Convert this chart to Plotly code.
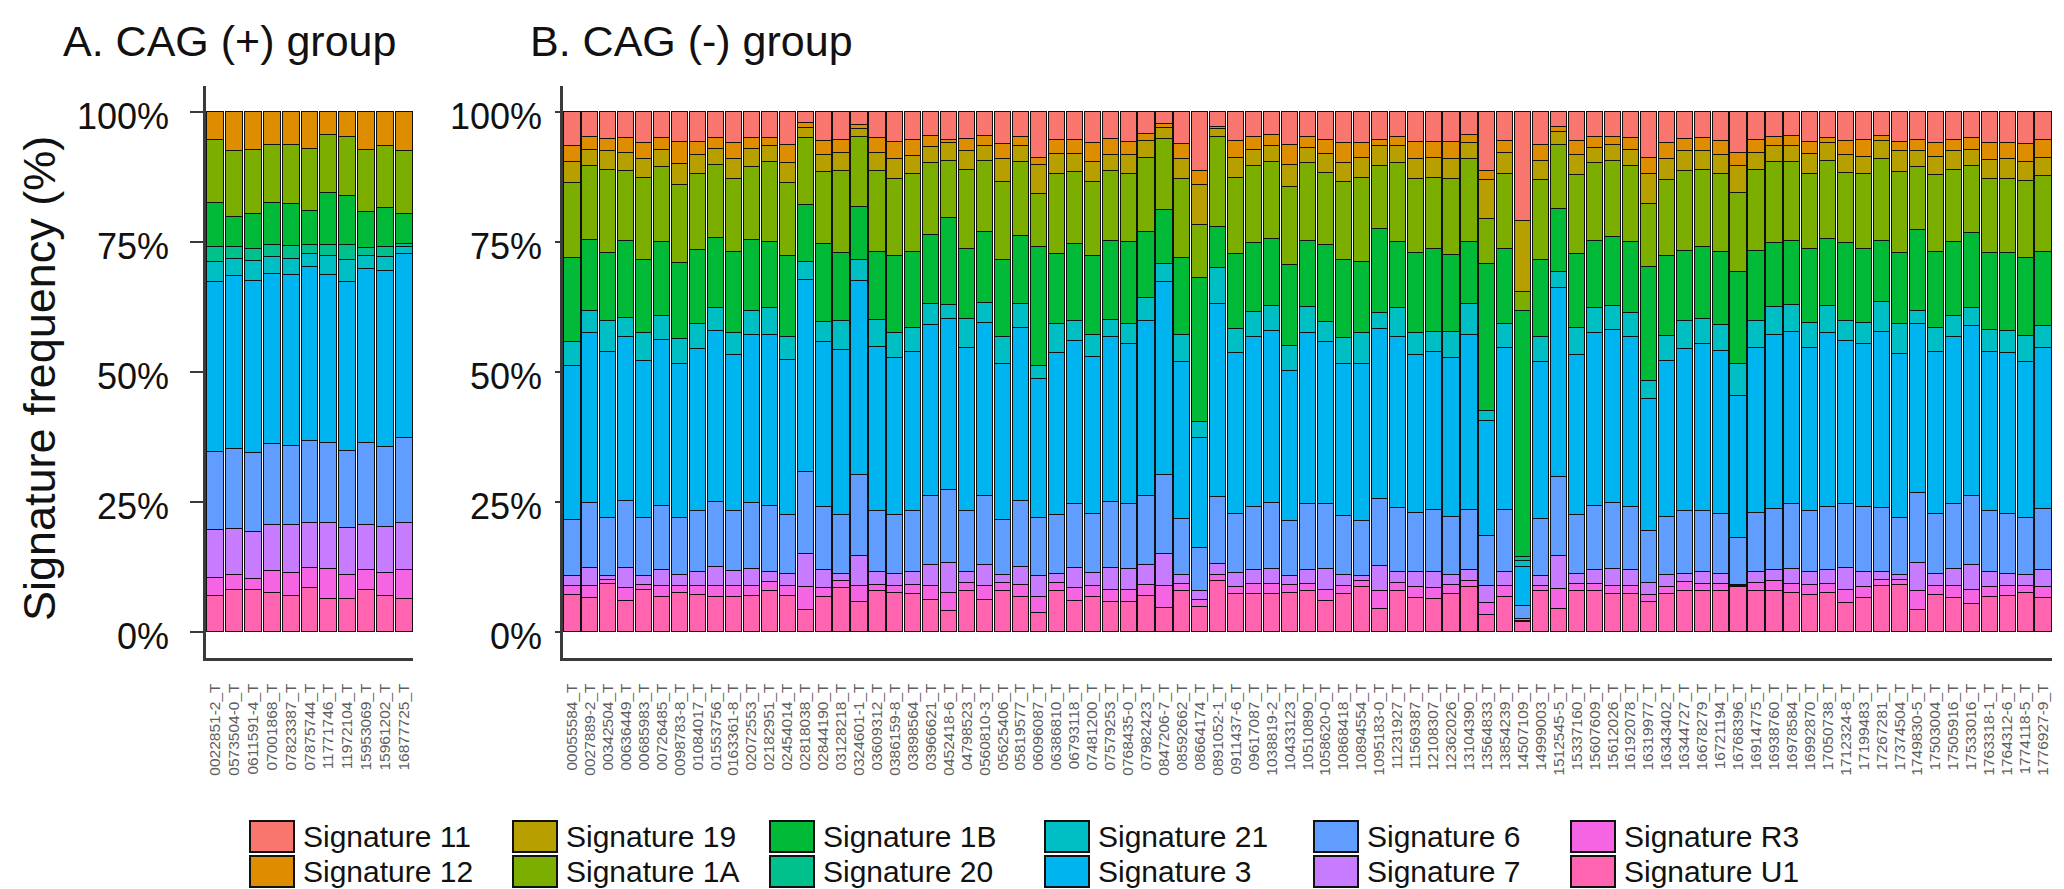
import plotly.graph_objects as go

W, H = 2064, 889

signatures = ["Signature 11", "Signature 12", "Signature 19", "Signature 1A", "Signature 1B", "Signature 20",
              "Signature 21", "Signature 3", "Signature 6", "Signature 7", "Signature R3", "Signature U1"]
colors = ["#F8766D", "#DE8C00", "#B79F00", "#7CAE00", "#00BA38", "#00C08B",
          "#00BFC4", "#00B4F0", "#619CFF", "#C77CFF", "#F564E3", "#FF64B0"]

# ---------------- Panel A: CAG (+) group ----------------
samples_a = ["0022851-2_T", "0573504-0_T", "0611591-4_T", "07001868_T", "07823387_T", "07875744_T",
             "11771746_T", "11972104_T", "15953069_T", "15961202_T", "16877725_T"]
a_11 = [0, 0, 0, 0, 0, 0, 0, 0, 0, 0, 0]
a_12 = [5.4, 7.5, 7.3, 6.3, 6.3, 7.1, 4.3, 4.8, 7.3, 6.4, 7.5]
a_19 = [0, 0, 0, 0, 0, 0, 0, 0, 0, 0, 0]
a_1A = [12.1, 12.7, 12.3, 11.2, 11.4, 11.9, 11.3, 11.2, 11.9, 12.0, 12.1]
a_1B = [8.4, 5.7, 6.7, 8.0, 8.0, 6.6, 9.9, 9.6, 6.9, 7.5, 5.8]
a_20 = [2.9, 2.3, 2.3, 2.4, 2.5, 1.7, 2.2, 2.8, 1.6, 2.0, 0.5]
a_21 = [3.9, 3.3, 3.9, 3.2, 3.0, 2.5, 3.6, 4.2, 2.4, 2.6, 1.4]
a_3 = [32.6, 33.2, 33.1, 32.8, 33.0, 33.4, 32.4, 32.6, 33.6, 33.8, 35.3]
a_6 = [15.1, 15.5, 15.2, 15.6, 15.3, 15.9, 15.4, 14.7, 15.7, 15.4, 16.5]
a_7 = [9.2, 8.9, 8.9, 8.8, 9.2, 8.6, 8.8, 9.1, 8.7, 9.0, 8.9]
a_R3 = [3.5, 2.8, 2.2, 4.2, 4.4, 3.8, 5.7, 4.6, 3.8, 4.4, 5.7]
a_U1 = [6.9, 8.1, 8.1, 7.5, 6.9, 8.5, 6.4, 6.4, 8.1, 6.9, 6.3]

# ---------------- Panel B: CAG (-) group ----------------
samples_b = ["00055584_T", "0027889-2_T", "00342504_T", "00636449_T", "00685983_T", "00726485_T",
             "0098783-8_T", "01084017_T", "01553756_T", "0163361-8_T", "02072553_T", "02182951_T",
             "02454014_T", "02818038_T", "02844190_T", "03128218_T", "0324601-1_T", "03609312_T",
             "0386159-8_T", "03898564_T", "03966621_T", "0452418-6_T", "04798523_T", "0560810-3_T",
             "05625406_T", "05819577_T", "06096087_T", "06386810_T", "06793118_T", "07481200_T",
             "07579253_T", "0768435-0_T", "07982423_T", "0847206-7_T", "08592662_T", "08664174_T",
             "0891052-1_T", "0911437-6_T", "09617087_T", "1038819-2_T", "10433123_T", "10510890_T",
             "1058620-0_T", "10868418_T", "10894554_T", "1095183-0_T", "11231927_T", "11569387_T",
             "12108307_T", "12362026_T", "13104390_T", "13564833_T", "13854239_T", "14507109_T",
             "14999003_T", "1512545-5_T", "15337160_T", "15607609_T", "15612026_T", "16192078_T",
             "16319977_T", "16343402_T", "16344727_T", "16678279_T", "16721194_T", "16768396_T",
             "16914775_T", "16938760_T", "16978584_T", "16992870_T", "17050738_T", "1712324-8_T",
             "17199483_T", "17267281_T", "17374504_T", "1749830-5_T", "17503004_T", "17505916_T",
             "17533016_T", "1763318-1_T", "1764312-6_T", "1774118-5_T", "1776927-9_T"]

b_11 = [6.5, 4.7, 5.1, 5.0, 5.8, 5.0, 5.7, 5.7, 5.0, 5.8,
        5.0, 5.0, 6.2, 2.1, 5.5, 5.4, 2.4, 5.0, 5.7, 5.4,
        4.5, 5.4, 5.1, 4.5, 6.0, 4.7, 8.8, 5.4, 5.4, 5.8,
        5.1, 5.7, 4.1, 2.2, 6.0, 11.3, 2.9, 5.5, 4.7, 4.3,
        6.2, 4.7, 5.4, 5.8, 5.8, 5.4, 4.8, 5.7, 5.7, 5.7,
        4.3, 11.3, 5.5, 20.9, 6.2, 2.9, 5.5, 4.8, 4.8, 5.0,
        8.8, 5.8, 5.1, 5.0, 5.5, 7.9, 5.4, 4.7, 4.5, 5.7,
        5.0, 5.5, 5.4, 4.5, 5.7, 5.4, 5.8, 5.4, 5.0, 5.8,
        5.8, 6.0, 5.4]
b_12 = [3.0, 2.5, 2.3, 2.8, 3.1, 2.2, 4.2, 2.5, 2.1, 3.1,
        2.1, 1.5, 3.5, 1.0, 2.7, 2.4, 0.8, 2.9, 3.2, 3.0,
        2.2, 0.4, 2.4, 2.0, 2.9, 1.7, 1.3, 2.7, 2.7, 3.7,
        3.1, 2.5, 1.4, 0.9, 2.9, 2.6, 0.3, 3.3, 2.5, 2.2,
        4.0, 2.2, 2.7, 4.0, 3.0, 1.1, 1.7, 3.2, 3.1, 3.2,
        1.5, 1.7, 2.4, 0.0, 3.1, 0.9, 2.7, 2.1, 1.4, 2.2,
        3.1, 3.1, 2.4, 2.4, 2.7, 2.4, 2.5, 1.8, 2.0, 2.4,
        0.8, 2.7, 3.2, 1.0, 1.8, 2.0, 2.8, 2.1, 2.2, 3.3,
        3.1, 3.5, 3.4]
b_19 = [4.1, 3.1, 3.6, 3.5, 3.8, 3.4, 4.0, 3.6, 3.1, 4.0,
        3.4, 3.1, 3.8, 1.9, 3.3, 3.5, 1.6, 3.4, 4.0, 3.5,
        3.1, 3.5, 3.5, 2.8, 4.5, 3.2, 5.7, 3.8, 3.4, 3.9,
        3.1, 3.7, 3.3, 2.0, 4.0, 7.7, 1.6, 3.9, 3.1, 3.1,
        4.1, 2.9, 3.6, 3.6, 3.9, 3.8, 3.3, 4.0, 3.9, 4.0,
        3.1, 7.6, 4.0, 13.7, 3.7, 2.4, 3.8, 2.9, 3.1, 3.1,
        5.8, 4.1, 3.8, 3.6, 3.7, 5.3, 3.1, 3.1, 3.1, 3.7,
        3.5, 3.5, 3.3, 3.4, 4.0, 3.2, 3.4, 3.6, 3.1, 3.8,
        4.0, 3.7, 3.5]
b_1A = [14.5, 14.3, 16.1, 13.5, 15.8, 14.4, 15.0, 14.6, 14.0, 14.0,
        14.1, 15.4, 14.1, 12.8, 13.9, 15.8, 13.4, 15.6, 14.7, 15.0,
        13.7, 11.1, 15.2, 13.7, 15.1, 14.2, 10.1, 15.3, 13.9, 14.2,
        13.4, 13.1, 14.2, 13.6, 15.2, 10.3, 17.3, 14.6, 14.9, 14.7,
        15.1, 15.0, 13.8, 15.1, 16.0, 12.2, 15.2, 14.2, 13.5, 14.5,
        16.1, 8.5, 14.3, 3.7, 15.5, 12.3, 15.3, 15.0, 14.7, 14.7,
        12.1, 14.6, 15.3, 14.9, 15.0, 15.1, 15.6, 15.6, 15.1, 14.4,
        15.0, 13.5, 14.3, 15.9, 15.6, 12.0, 14.9, 13.9, 13.0, 14.2,
        14.2, 14.9, 14.6]
b_1B = [16.0, 13.6, 13.0, 14.8, 14.0, 14.2, 14.7, 14.3, 13.5, 15.5,
        13.7, 12.6, 15.6, 11.0, 14.9, 13.0, 10.3, 13.0, 14.8, 14.6,
        13.3, 16.6, 13.6, 13.7, 14.8, 13.0, 22.9, 13.6, 14.7, 15.3,
        15.2, 15.8, 12.7, 10.4, 14.8, 27.6, 7.9, 14.4, 13.2, 12.9,
        15.5, 12.6, 14.8, 14.9, 13.8, 16.1, 12.7, 15.3, 16.0, 14.8,
        11.9, 28.4, 14.6, 47.3, 14.7, 12.2, 14.2, 12.9, 13.2, 13.6,
        21.8, 15.5, 13.5, 13.9, 14.1, 17.7, 13.5, 12.2, 12.3, 14.4,
        12.9, 14.9, 14.3, 11.6, 13.7, 15.7, 14.6, 14.1, 14.4, 14.7,
        14.9, 15.0, 14.3]
b_20 = [0, 0, 0, 0, 0, 0, 0, 0, 0, 0,
        0, 0, 0, 0, 0, 0, 0, 0, 0, 0,
        0, 0, 0, 0, 0, 0, 0, 0, 0, 0,
        0, 0, 0, 0, 0, 0, 0, 0, 0, 0,
        0, 0, 0, 0, 0, 0, 0, 0, 0, 0,
        0, 0, 0, 0.7, 0, 0, 0, 0, 0, 0,
        0, 0, 0, 0, 0, 0, 0, 0, 0, 0,
        0, 0, 0, 0, 0, 0, 0, 0, 0, 0,
        0, 0, 0]
b_21 = [4.7, 4.3, 6.1, 3.7, 5.4, 4.6, 4.8, 4.8, 4.3, 4.2,
        4.6, 5.3, 4.5, 3.4, 3.9, 5.7, 3.9, 5.2, 4.9, 4.6,
        4.1, 2.8, 5.5, 3.9, 5.1, 4.7, 2.5, 5.5, 3.8, 4.2,
        3.4, 3.8, 4.4, 3.5, 5.1, 3.1, 6.8, 4.6, 4.9, 4.8,
        4.8, 5.0, 3.8, 5.0, 5.9, 3.1, 5.5, 4.2, 3.9, 5.1,
        6.0, 1.8, 4.5, 1.1, 4.9, 3.0, 5.1, 4.8, 4.6, 4.7,
        3.6, 4.8, 5.4, 4.8, 5.0, 6.1, 5.2, 5.5, 5.2, 4.8,
        5.2, 3.8, 4.1, 5.8, 5.7, 2.5, 4.6, 4.2, 3.5, 4.3,
        4.3, 4.9, 4.2]
b_3 = [29.7, 32.6, 31.9, 31.5, 30.2, 31.9, 29.7, 31.2, 33.0, 30.2,
       32.2, 32.9, 29.8, 37.1, 31.8, 31.7, 37.4, 31.7, 30.2, 30.7,
       33.0, 32.9, 31.5, 33.3, 30.0, 33.3, 26.8, 31.2, 31.5, 30.1,
       31.7, 30.7, 33.8, 37.2, 30.2, 21.3, 37.3, 30.9, 32.7, 33.1,
       29.0, 33.0, 31.3, 29.3, 30.3, 32.7, 32.9, 30.4, 30.4, 30.5,
       33.6, 22.3, 31.2, 7.6, 30.1, 36.5, 30.9, 33.3, 33.3, 32.7,
       25.4, 29.9, 31.3, 32.1, 31.2, 27.5, 31.7, 33.4, 33.2, 31.3,
       33.6, 31.4, 31.4, 33.9, 31.6, 32.5, 31.1, 32.1, 32.7, 30.6,
       30.9, 30.1, 30.9]
b_6 = [10.7, 12.6, 11.1, 12.9, 11.1, 12.4, 10.9, 11.8, 12.4, 11.5,
       12.7, 12.7, 11.3, 15.7, 12.1, 11.3, 15.5, 11.7, 11.3, 11.7,
       13.2, 14.1, 11.7, 13.2, 10.6, 12.6, 11.1, 11.3, 12.3, 11.4,
       12.7, 12.5, 13.2, 15.2, 10.8, 8.2, 12.9, 11.5, 12.1, 12.7,
       10.5, 12.7, 12.5, 11.3, 10.5, 12.8, 12.4, 11.5, 12.0, 11.2,
       11.6, 9.5, 12.0, 2.4, 11.0, 15.2, 11.3, 12.3, 12.7, 12.1,
       9.9, 11.2, 12.0, 11.8, 11.6, 8.9, 11.5, 11.8, 12.5, 11.8,
       12.1, 12.4, 12.5, 12.4, 10.9, 13.5, 11.6, 12.4, 13.2, 11.8,
       11.6, 10.9, 11.8]
b_7 = [2.0, 3.5, 0.8, 3.9, 1.7, 3.1, 2.1, 2.6, 3.8, 2.9,
       3.4, 1.8, 2.4, 6.4, 3.5, 1.4, 5.8, 2.4, 2.4, 2.4,
       4.1, 5.7, 2.0, 4.1, 1.5, 3.5, 4.1, 1.7, 3.9, 2.6,
       4.2, 4.1, 3.8, 6.2, 1.7, 1.7, 2.0, 2.7, 2.6, 2.9,
       1.7, 2.6, 4.0, 2.1, 1.0, 5.0, 2.0, 2.9, 3.1, 1.9,
       2.1, 3.4, 2.7, 0.5, 1.9, 6.4, 1.9, 2.6, 3.3, 3.0,
       2.4, 2.4, 1.6, 2.2, 1.9, 0.2, 2.0, 2.1, 2.8, 2.4,
       2.6, 4.2, 2.9, 1.5, 1.0, 5.4, 2.3, 3.4, 4.8, 2.9,
       2.4, 2.1, 3.3]
b_R3 = [1.6, 2.3, 0.8, 2.5, 1.1, 2.1, 1.4, 1.8, 2.1, 2.1,
        1.9, 1.9, 1.9, 4.3, 1.7, 1.4, 3.2, 1.2, 1.3, 1.7,
        2.6, 3.5, 1.7, 2.6, 1.6, 2.4, 3.1, 1.6, 2.5, 2.1,
        2.4, 2.4, 2.2, 4.1, 1.5, 1.4, 1.2, 1.3, 2.0, 1.9,
        1.6, 1.5, 2.1, 1.6, 1.2, 3.3, 1.7, 2.1, 2.0, 1.7,
        1.2, 2.2, 2.1, 0.1, 1.1, 3.7, 1.5, 1.5, 1.6, 1.5,
        1.4, 1.3, 1.8, 1.5, 1.5, 0.2, 1.7, 1.9, 1.8, 2.0,
        1.8, 2.6, 2.1, 1.2, 0.9, 3.5, 1.7, 2.2, 2.8, 1.9,
        1.9, 1.4, 2.0]
b_U1 = [7.2, 6.5, 9.2, 5.9, 8.0, 6.7, 7.5, 7.1, 6.7, 6.7,
        6.9, 7.8, 6.9, 4.3, 6.7, 8.4, 5.7, 7.9, 7.5, 7.4,
        6.2, 4.0, 7.8, 6.2, 7.9, 6.7, 3.6, 7.9, 5.9, 6.7,
        5.7, 5.7, 6.9, 4.7, 7.8, 4.8, 9.8, 7.3, 7.3, 7.4,
        7.5, 7.8, 6.0, 7.3, 8.6, 4.5, 7.8, 6.5, 6.4, 7.4,
        8.6, 3.3, 6.7, 2.0, 7.8, 4.5, 7.8, 7.8, 7.3, 7.4,
        5.7, 7.3, 7.8, 7.8, 7.8, 8.7, 7.8, 7.9, 7.5, 7.1,
        7.5, 5.5, 6.5, 8.8, 9.1, 4.3, 7.2, 6.6, 5.3, 6.7,
        6.9, 7.5, 6.6]

y_ticks = [0, 25, 50, 75, 100]
y_ticktext = ["0%", "25%", "50%", "75%", "100%"]

values_a = [a_11, a_12, a_19, a_1A, a_1B, a_20, a_21, a_3, a_6, a_7, a_R3, a_U1]
values_b = [b_11, b_12, b_19, b_1A, b_1B, b_20, b_21, b_3, b_6, b_7, b_R3, b_U1]

FONT = "Liberation Sans, Arial, Helvetica, sans-serif"
AXC = "#3a3a3a"

fig = go.Figure()
# add bottom-most signature first so stacking matches (U1 at bottom, 11 on top)
for i in reversed(range(len(signatures))):
    fig.add_trace(go.Bar(x=samples_a, y=values_a[i], name=signatures[i],
                         marker=dict(color=colors[i], line=dict(color="#111111", width=1)),
                         xaxis="x", yaxis="y", showlegend=False))
    fig.add_trace(go.Bar(x=samples_b, y=values_b[i], name=signatures[i],
                         marker=dict(color=colors[i], line=dict(color="#111111", width=1)),
                         xaxis="x2", yaxis="y2", showlegend=False))

def px_x(x):
    return x / W

def px_y(y):
    return 1 - y / H

y_dom = [px_y(649.5), px_y(77.9)]

xaxis_common = dict(type="category", showline=True, linecolor=AXC, linewidth=2.5,
                    ticks="outside", ticklen=17, tickcolor="rgba(0,0,0,0)",
                    tickangle=-90, tickfont=dict(family=FONT, size=15.5, color="#5e5e5e"),
                    showgrid=False, zeroline=False, automargin=False, fixedrange=True)
fig.update_layout(
    xaxis=dict(domain=[px_x(198), px_x(405)], anchor="y", range=[-0.5, len(samples_a) - 0.5],
               tickmode="array", tickvals=samples_a, ticktext=samples_a, **xaxis_common),
    xaxis2=dict(domain=[px_x(555), px_x(2044)], anchor="y2", range=[-0.5, len(samples_b) - 0.5],
                tickmode="array", tickvals=samples_b, ticktext=samples_b, **xaxis_common),
    yaxis=dict(domain=y_dom, anchor="x", range=[-5, 105], tickvals=y_ticks, ticktext=y_ticktext,
               showline=True, linecolor=AXC, linewidth=2.5, ticks="outside", ticklen=13, tickwidth=2,
               tickcolor=AXC, ticklabelstandoff=14, ticklabelshift=5,
               tickfont=dict(family=FONT, size=36, color="#111111"),
               showgrid=False, zeroline=False, automargin=False),
    yaxis2=dict(domain=y_dom, anchor="x2", range=[-5, 105], tickvals=y_ticks, ticktext=y_ticktext,
                showline=True, linecolor=AXC, linewidth=2.5, ticks="outside", ticklen=5, tickwidth=2,
                tickcolor=AXC, ticklabelstandoff=6, ticklabelshift=5,
                tickfont=dict(family=FONT, size=36, color="#111111"),
                showgrid=False, zeroline=False, automargin=False),
    barmode="stack", bargap=0.1,
    width=W, height=H, margin=dict(l=0, r=0, t=0, b=0),
    paper_bgcolor="white", plot_bgcolor="white", template="none",
    font=dict(family=FONT, color="#111111"),
)

annotations = [
    dict(text="A. CAG (+) group", x=px_x(53), y=px_y(33), xref="paper", yref="paper",
         xanchor="left", yanchor="middle", showarrow=False, font=dict(family=FONT, size=43, color="#111111")),
    dict(text="B. CAG (-) group", x=px_x(520), y=px_y(33), xref="paper", yref="paper",
         xanchor="left", yanchor="middle", showarrow=False, font=dict(family=FONT, size=43, color="#111111")),
    dict(text="Signature frequency (%)", x=px_x(32), y=px_y(371), xref="paper", yref="paper",
         xanchor="center", yanchor="middle", textangle=-90, showarrow=False,
         font=dict(family=FONT, size=45, color="#111111")),
]

# custom legend: 6 columns x 2 rows (column-major order as in the reference)
legend_col_left = [242, 505, 762, 1037, 1306, 1563]
legend_row_top = [813, 848]
box_w, box_h = 44, 31
shapes = []
for i, (name, col) in enumerate(zip(signatures, colors)):
    c, r = divmod(i, 2)
    x0 = legend_col_left[c]
    y0 = legend_row_top[r]
    shapes.append(dict(type="rect", xref="paper", yref="paper",
                       x0=px_x(x0), x1=px_x(x0 + box_w), y0=px_y(y0 + box_h), y1=px_y(y0),
                       fillcolor=col, line=dict(color="#111111", width=2)))
    annotations.append(dict(text=name, x=px_x(x0 + box_w + 7), y=px_y(y0 + box_h / 2),
                            xref="paper", yref="paper", xanchor="left", yanchor="middle",
                            showarrow=False, font=dict(family=FONT, size=30, color="#111111")))

fig.update_layout(annotations=annotations, shapes=shapes)
fig.write_html("out.html")
